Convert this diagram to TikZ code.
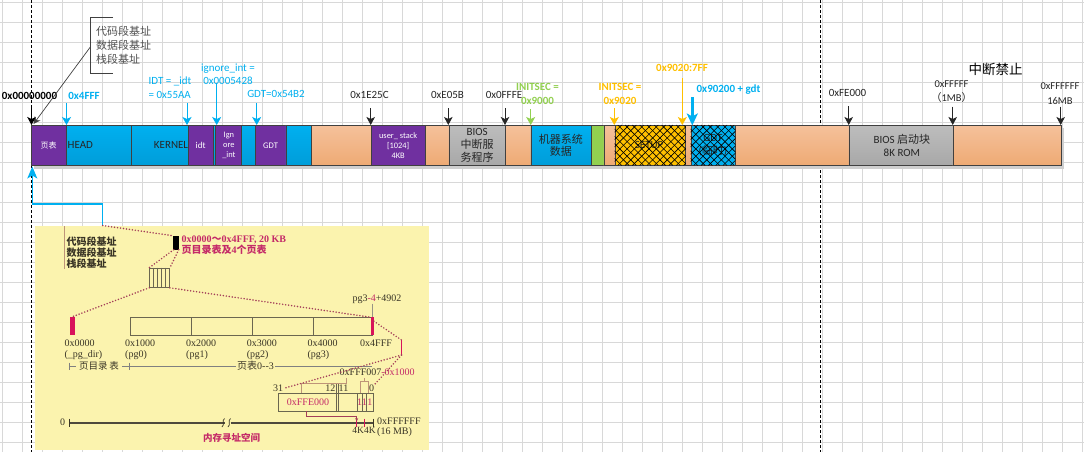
\documentclass[tikz,border=0pt]{standalone}
\usepackage{fontspec}
\setmainfont{Carlito}
\newfontfamily\cjk{Noto Sans CJK SC}
\newfontfamily\tms{Liberation Serif}
\usetikzlibrary{arrows.meta}

\definecolor{gridc}{HTML}{D8D8D8}
\definecolor{purp}{HTML}{7030A0}
\definecolor{cyanb}{HTML}{00B0F0}
\definecolor{cyanbd}{HTML}{009DD9}
\definecolor{orng}{HTML}{F5C19B}
\definecolor{orngd}{HTML}{EEAA74}
\definecolor{grayb}{HTML}{BDBDBD}
\definecolor{grayd}{HTML}{A8A8A8}
\definecolor{grn}{HTML}{92D050}
\definecolor{amber}{HTML}{FFC000}
\definecolor{edge}{HTML}{404040}
\definecolor{basec}{HTML}{505050}
\definecolor{txt}{HTML}{262626}
\definecolor{shadowc}{HTML}{CFCFCF}
\definecolor{panel}{HTML}{FBF3AE}
\definecolor{pinkr}{HTML}{C42A68}
\definecolor{pinkm}{HTML}{D8135A}
\definecolor{dotc}{HTML}{A33D58}
\definecolor{brn}{HTML}{BE9478}
\definecolor{ink}{HTML}{3A3526}
\definecolor{tabc}{HTML}{6B6650}

\tikzset{
  seg/.style={draw=edge, line width=0.8pt, minimum height=40.5pt, inner sep=0pt, anchor=west},
  purpseg/.style={seg, fill=purp},
  cyanseg/.style={seg, top color=cyanb, bottom color=cyanbd},
  orngseg/.style={seg, top color=orng, bottom color=orngd},
  grayseg/.style={seg, top color=grayb, bottom color=grayd},
  lbl/.style={inner sep=0pt, text=txt, font=\fontsize{11}{13.5}\selectfont, align=center},
  intxt/.style={inner sep=0pt, align=center},
  barr/.style={-{Stealth[length=8pt,width=8.5pt,inset=2pt]}, line width=0.9pt, draw=txt},
  carr/.style={-{Stealth[length=8pt,width=9pt,inset=2pt]}, line width=1pt, draw=cyanb},
  hatch/.style={line width=0.6pt, draw=black},
  dots/.style={draw=dotc, line width=1.7pt, dash pattern=on 0pt off 3pt, line cap=round},
  ptxt/.style={inner sep=0pt, text=ink, font=\tms\fontsize{10}{10.3}\selectfont},
  brline/.style={draw=brn, line width=0.7pt},
}

% one block of the memory bar: name, left x, right x, style
\newcommand\barseg[4]{\node[#4, minimum width={#3-#2}] (#1) at (#2,145.25) {};}

\begin{document}
\begin{tikzpicture}[x=1pt,y=-1pt]
\useasboundingbox (0,0) rectangle (1084,452);
\fill[white] (0,0) rectangle (1084,452);

% background grid
\foreach \gx in {2.5,22.5,...,1083} \draw[gridc, line width=0.9pt] (\gx,0) -- (\gx,452);
\foreach \gy in {2.5,22.5,...,452} \draw[gridc, line width=0.9pt] (0,\gy) -- (1084,\gy);

% dashed guide lines
\draw[black, line width=0.8pt, dash pattern=on 3pt off 2pt] (31.7,0) -- (31.7,452);
\draw[black, line width=0.8pt, dash pattern=on 3pt off 2pt] (820.7,0) -- (820.7,452);

% ---------- memory bar ----------
\fill[shadowc] (33.5,128) rectangle (1064,168.5);
\barseg{ptab}{30.5}{66}{purpseg}
\barseg{head}{66}{131}{cyanseg}
\barseg{kernel}{131}{187.5}{cyanseg}
\barseg{idt}{187.5}{213}{purpseg}
\barseg{gapa}{213}{215}{cyanseg}
\barseg{ign}{215}{241}{purpseg}
\barseg{gapb}{241}{255}{cyanseg}
\barseg{gdt}{255}{285.5}{purpseg}
\barseg{gapc}{285.5}{311}{cyanseg}
\barseg{freea}{311}{370.5}{orngseg}
\barseg{ustack}{370.5}{425}{purpseg}
\barseg{freeb}{425}{448.5}{orngseg}
\barseg{biosint}{448.5}{505}{grayseg}
\barseg{freec}{505}{530.5}{orngseg}
\barseg{mach}{530.5}{590.5}{cyanseg}
\barseg{green}{590.5}{603.5}{seg, fill=grn}
\barseg{freed}{603.5}{614.5}{orngseg}
\barseg{setup}{614.5}{685}{seg, fill=amber}
\barseg{freee}{685}{690.5}{orngseg}
\barseg{gdtt}{690.5}{734.5}{seg, fill=cyanb}
\barseg{freef}{734.5}{848.5}{orngseg}
\barseg{biosrom}{848.5}{952.5}{grayseg}
\barseg{freeg}{952.5}{1061}{orngseg}

% block texts
\node[intxt, text=white, font=\cjk\fontsize{8}{9}\selectfont] (tptab) at (ptab.center) {页表};
\node[intxt, text=txt, font=\fontsize{11}{12}\selectfont, anchor=west] (thead) at ([xshift=1.5pt]head.west) {HEAD};
\node[intxt, text=txt, font=\fontsize{11}{12}\selectfont, anchor=east] (tkernel) at (kernel.east) {KERNEL};
\node[intxt, text=white, font=\fontsize{9}{10}\selectfont] (tidt) at (idt.center) {idt};
\node[intxt, text=white, font=\fontsize{8.4}{10}\selectfont] (tign) at ([xshift=0.5pt]ign.center) {Ign\\ore\\\_int};
\node[intxt, text=white, font=\fontsize{8.6}{10}\selectfont] (tgdt) at (gdt.center) {GDT};
\node[intxt, text=white, font=\fontsize{8.4}{10}\selectfont] (tustack) at (ustack.center) {user\_ stack\\{}[1024]\\4KB};
\node[intxt, text=txt, font=\fontsize{11}{13.3}\selectfont] (tbiosint) at (biosint.center) {BIOS\\{\cjk 中断服}\\{\cjk 务程序}};
\node[intxt, text=txt, font=\cjk\fontsize{11}{12.7}\selectfont] (tmach) at (mach.center) {机器系统\\数据};
\node[intxt, text=txt, font=\fontsize{11}{12}\selectfont] (tsetup) at ([xshift=-1pt]setup.center) {SETUP};
\node[intxt, text=txt, font=\fontsize{11}{13.5}\selectfont] (tgdtt) at (gdtt.center) {GDT\\({\cjk 临时})};
\node[intxt, text=txt, font=\fontsize{11}{13.5}\selectfont] (tbiosrom) at ([xshift=1pt]biosrom.center) {BIOS {\cjk 启动块}\\8K ROM};

% cross hatching on SETUP and the temporary GDT
\begin{scope}
  \clip (setup.south west) rectangle (setup.north east);
  \foreach \hx in {0,...,16} {
    \draw[hatch] (574+\hx*7.3,165.5) -- ++(40.5,-40.5);
    \draw[hatch] (574+\hx*7.3,125) -- ++(40.5,40.5);
  }
\end{scope}
\begin{scope}
  \clip (gdtt.south west) rectangle (gdtt.north east);
  \foreach \hx in {0,...,12} {
    \draw[hatch] (650+\hx*7.3,165.5) -- ++(40.5,-40.5);
    \draw[hatch] (650+\hx*7.3,125) -- ++(40.5,40.5);
  }
\end{scope}

% ---------- address labels and arrows ----------
\node[lbl, font=\bfseries\fontsize{11}{13}\selectfont, text=black] (l0) at (29.5,95.5) {0x00000000};
\node[lbl, font=\bfseries\fontsize{11}{13}\selectfont, text=cyanb] (l4fff) at (84,95.5) {0x4FFF};
\node[lbl, text=cyanb, align=left] (lidt) at (170,87.5) {IDT = \_idt\\= 0x55AA};
\node[lbl, text=cyanb] (lign) at (228,74.5) {ignore\_int =\\0x0005428};
\node[lbl, text=cyanb] (lgdt) at (276,94) {GDT=0x54B2};
\node[lbl] (l1e25c) at (369.5,95) {0x1E25C};
\node[lbl] (le05b) at (447.5,95) {0xE05B};
\node[lbl] (l0fffe) at (504,95) {0x0FFFE};
\node[lbl, font=\bfseries\fontsize{11}{13.5}\selectfont, text=grn] (linit1) at (537.5,94) {INITSEC =\\0x9000};
\node[lbl, font=\bfseries\fontsize{11}{13.5}\selectfont, text=amber] (linit2) at (620,94) {INITSEC =\\0x9020};
\node[lbl, font=\bfseries\fontsize{11}{13}\selectfont, text=amber] (l7ff) at (682,67.5) {0x9020:7FF};
\node[lbl, font=\bfseries\fontsize{11}{13}\selectfont, text=cyanb] (lgdtt) at (728.5,90) {0x90200 + gdt};
\node[lbl] (lfe000) at (847.5,92.5) {0xFE000};
\node[lbl, font=\cjk\fontsize{13.5}{15}\selectfont, text=black] (lforbid) at (995.5,69) {中断禁止};
\node[lbl, font=\fontsize{10.5}{14.5}\selectfont] (l1mb) at (951.5,91.5) {0xFFFFF\\{\cjk （}1MB{\cjk ）}};
\node[lbl, font=\fontsize{10.5}{14.5}\selectfont] (l16mb) at (1060,93.5) {0xFFFFFF\\16MB};

% base-address bracket
\node[lbl, font=\cjk\fontsize{11}{14}\selectfont, text=basec, align=left, anchor=west] (lbase) at (96,45.5) {代码段基址\\数据段基址\\栈段基址};
\draw[edge, line width=0.8pt] (113,17.3) -- (90.7,17.3) -- (90.7,73.3) -- (113,73.3);
\coordinate (brk) at (90.7,46.5);
\coordinate (brkend) at (33.5,124);
\draw[-{Stealth[length=7pt,width=7pt]}, draw=edge, line width=0.7pt] (brk) -- (brkend);

% arrow start / end points
\coordinate (s0) at (31.5,106);      \coordinate (t0) at (31.5,125);
\coordinate (s4fff) at (66.5,103);   \coordinate (t4fff) at (66.5,125);
\coordinate (sidt) at (187,103);     \coordinate (tidtp) at (187,125);
\coordinate (sign) at (216.7,83);    \coordinate (tignp) at (216.7,125);
\coordinate (sgdt) at (256.7,103);   \coordinate (tgdtp) at (256.7,125);
\coordinate (s1e) at (370.7,108);    \coordinate (t1e) at (370.7,125);
\coordinate (se05) at (448.3,108);   \coordinate (te05) at (448.3,125);
\coordinate (sfe) at (505,108);      \coordinate (tfe) at (505,125);
\coordinate (sin1) at (530.7,109);   \coordinate (tin1) at (530.7,125);
\coordinate (sin2) at (614.3,108);   \coordinate (tin2) at (614.3,125);
\coordinate (s7ff) at (682.3,78);    \coordinate (t7ff) at (682.3,125);
\coordinate (sgt) at (692.3,97);     \coordinate (tgt) at (692.3,125.5);
\coordinate (sfe0) at (848.7,106);   \coordinate (tfe0) at (848.7,125);
\coordinate (s1m) at (952.7,106.7);  \coordinate (t1m) at (952.7,125);
\coordinate (s16) at (1060.7,106.7); \coordinate (t16) at (1060.7,125);

\draw[barr, draw=black] (s0) -- (t0);
\draw[carr] (s4fff) -- (t4fff);
\draw[carr] (sidt) -- (tidtp);
\draw[carr] (sign) -- (tignp);
\draw[carr] (sgdt) -- (tgdtp);
\draw[barr] (s1e) -- (t1e);
\draw[barr] (se05) -- (te05);
\draw[barr] (sfe) -- (tfe);
\draw[carr, draw=grn] (sin1) -- (tin1);
\draw[carr, draw=amber] (sin2) -- (tin2);
\draw[carr, draw=amber] (s7ff) -- (t7ff);
\draw[-{Stealth[length=12pt,width=11pt,inset=3pt]}, draw=cyanb, line width=2.6pt] (sgt) -- (tgt);
\draw[barr] (sfe0) -- (tfe0);
\draw[barr] (s1m) -- (t1m);
\draw[barr] (s16) -- (t16);

% ---------- paging panel ----------
\node[fill=panel, draw=none, inner sep=0pt, minimum width=393.5pt, minimum height=224pt, anchor=north west] (panel) at (35,225.5) {};

\coordinate (ctop) at (102.7,225.5);
\coordinate (ccorner) at (32.3,204);
\coordinate (cend) at (32.3,166.5);
\draw[-{Stealth[length=12pt,width=10pt,inset=3pt]}, draw=cyanb, line width=1.2pt] (ctop) |- (ccorner) -- (cend);

% segment base text
\draw[brline] (64.3,226) -- (64.3,269);
\node[inner sep=0pt, text=ink, font=\cjk\bfseries\fontsize{10}{10.8}\selectfont, align=left, anchor=north west] (pbase) at (66.5,236.5) {代码段基址\\数据段基址\\栈段基址};

% page directory block and label
\node[fill=black, inner sep=0pt, minimum width=5.6pt, minimum height=13.6pt, anchor=north west] (pdblk) at (172.7,235.7) {};
\node[inner sep=0pt, text=pinkr, font=\tms\bfseries\fontsize{10}{10}\selectfont, align=left, anchor=north west] (pdlbl) at (181.5,235.5) {0x0000{\cjk ～}0x4FFF, 20 KB\\{\cjk 页目录表及}4{\cjk 个页表}};

% stack of five tables
\node[draw=tabc, line width=0.6pt, inner sep=0pt, minimum width=20pt, minimum height=19.5pt, anchor=north west] (pstack) at (149.3,267.7) {};
\foreach \vx in {153.3,157.3,161.3,165.3} \draw[tabc, line width=0.6pt] (\vx,267.7) -- (\vx,287.2);

% page directory marker and page tables
\node[fill=pinkm, inner sep=0pt, minimum width=5.7pt, minimum height=18.3pt, anchor=north west] (pdir) at (69.3,316.7) {};
\node[draw=tabc, line width=0.8pt, inner sep=0pt, minimum width=242pt, minimum height=17.7pt, anchor=north west] (pgtab) at (130,317.3) {};
\foreach \vx in {191,252,313} \draw[tabc, line width=0.8pt] (\vx,317.3) -- (\vx,335);
\node[fill=pinkm, inner sep=0pt, minimum width=3pt, minimum height=18pt, anchor=north west] (pgmark) at (370.5,317.2) {};
\node[ptxt, anchor=south] (pgl) at (377,303.5) {pg3\textcolor{pinkr}{-4}+4902};
\draw[tabc!70, line width=0.6pt] (pgl.south -| pgmark.north) -- (pgmark.north);

% page table entry marker
\coordinate (petop) at (401.5,340);
\coordinate (pebot) at (401.5,355);
\draw[pinkm, line width=1.4pt] (petop) -- (pebot);

% address labels under the tables
\node[ptxt, align=left, anchor=north west] (a0) at (64.3,340) {0x0000\\(\_pg\_dir)};
\node[ptxt, align=left, anchor=north west] (a1) at (125,340) {0x1000\\(pg0)};
\node[ptxt, align=left, anchor=north west] (a2) at (186,340) {0x2000\\(pg1)};
\node[ptxt, align=left, anchor=north west] (a3) at (246.7,340) {0x3000\\(pg2)};
\node[ptxt, align=left, anchor=north west] (a4) at (307.3,340) {0x4000\\(pg3)};
\node[ptxt, align=left, anchor=north west] (a5) at (360,340) {0x4FFF};

% span line for directory and tables
\draw[gray, line width=0.6pt] (69.3,362.5) -- (69.3,369.5) (69.3,366) -- (76,366);
\node[inner sep=0pt, text=ink, font=\cjk\fontsize{9.5}{10}\selectfont] (spd) at (99,366) {页目录\,表};
\draw[gray, line width=0.6pt] (122,366) -- (236,366) (129.5,362.5) -- (129.5,369.5);
\node[inner sep=0pt, text=ink, font=\tms\fontsize{10}{10}\selectfont] (spt) at (255.5,366) {{\cjk 页表}0--3};
\draw[gray, line width=0.6pt] (275,366) -- (372,366);

% selected entry and register
\node[ptxt, anchor=west] (fff) at (339.5,372.5) {0xFFF007\textcolor{pinkr}{-0x1000}};
\node[draw=tabc, line width=0.8pt, inner sep=0pt, minimum width=95pt, minimum height=18pt, anchor=north west] (reg) at (278,393) {};
\draw[tabc, line width=0.7pt] (336,384) -- (336,411) (338,384) -- (338,411);
\foreach \vx in {357.3,362,366.7} \draw[tabc, line width=0.7pt] (\vx,393) -- (\vx,411);
\node[ptxt, text=pinkr] (regaddr) at (308,402) {0xFFE000};
\node[ptxt, text=pinkr] (rb1) at (359.7,402) {1};
\node[ptxt, text=pinkr] (rb2) at (364.4,402) {1};
\node[ptxt, text=pinkr] (rb3) at (369.8,402) {1};
\node[ptxt] (b31) at (278,388.5) {31};
\node[ptxt, anchor=east] (b12) at (335.5,388.5) {12};
\node[ptxt, anchor=west] (b11) at (338.5,388.5) {11};
\node[ptxt] (b0) at (371.5,388.5) {0};

\draw[brline] (301.7,393) -- (301.7,383) -- (346.7,383) -- (346.7,377.5);
\draw[brline] (360,393) -- (360,381.7) -- (368.3,381.7) -- (368.3,393) (364,381.7) -- (364,377.5);

% dotted zoom lines
\draw[dots] (ctop) -- (pdblk.north west);
\draw[dots] ([xshift=1pt]pdblk.south west) -- (pstack.north west);
\draw[dots] (pdblk.south east) -- (pstack.north east);
\draw[dots] (pstack.south west) -- (pdir.north);
\draw[dots] (pstack.south east) -- (pgmark.north west);
\draw[dots] ([yshift=-4pt]pgmark.north east) -- (petop);
\draw[dots] (pebot) -- (b31.east);
\draw[dots] (pebot) -- (b0.north east);

% linear address space
\coordinate (m0) at (69.3,422.7);
\coordinate (mbrk1) at (224.5,422.7);
\coordinate (mbrk2) at (230.5,422.7);
\coordinate (mend) at (373.3,422.7);
\draw[draw=ink!90, line width=1.8pt] (m0) -- (mbrk1) (mbrk2) -- (mend);
\draw[ink, line width=0.7pt] (222,427) .. controls (225.5,424) and (221,421.5) .. (224.5,418.5);
\draw[ink, line width=0.7pt] (228,427) .. controls (231.5,424) and (227,421.5) .. (230.5,418.5);
\draw[ink, line width=0.8pt] (69.3,418.5) -- (69.3,427) (373.3,418.5) -- (373.3,427);
\draw[pinkm, line width=0.8pt] (356.7,418.5) -- (356.7,427) (364.3,418.5) -- (364.3,427);
\node[ptxt] (mzero) at (62.5,422.5) {0};
\node[ptxt, font=\tms\fontsize{9.5}{10}\selectfont] (m4k) at (364,430.5) {4K4K};
\node[ptxt, align=left, anchor=north west] (mtop) at (377,417.5) {0xFFFFFF\\(16 MB)};
\node[inner sep=0pt, text=pinkr, font=\cjk\bfseries\fontsize{9.5}{10}\selectfont] (mname) at (231.5,438) {内存寻址空间};

% register frame to address line
\coordinate (rgo) at (306.7,411);
\coordinate (rgturn) at (356.7,416);
\coordinate (rgend) at (356.7,421.5);
\draw[draw=dotc, line width=0.7pt, -{Stealth[length=3.5pt,width=3pt]}] (rgo) |- (rgturn) -- (rgend);
\end{tikzpicture}
\end{document}
